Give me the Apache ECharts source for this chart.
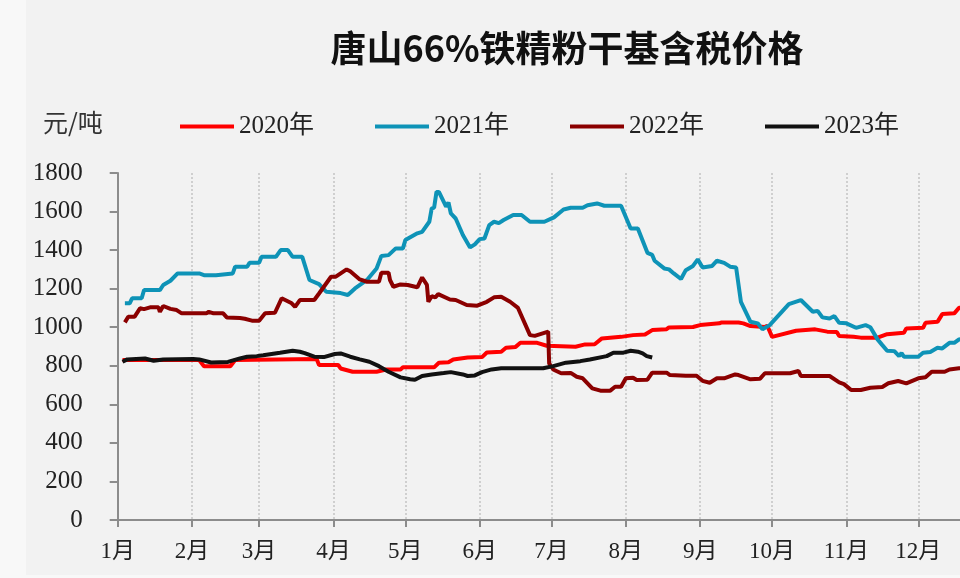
<!DOCTYPE html>
<html>
<head>
<meta charset="utf-8">
<script src="https://cdn.jsdelivr.net/npm/echarts@6/dist/echarts.min.js"></script>
<style>
  html, body { margin: 0; padding: 0; background: #f8f8f8; }
  #chart { position: absolute; left: 26px; top: 0; width: 934px; height: 575px; }
</style>
</head>
<body>
<div id="chart"></div>
<script>
// x = day of year (0 = Jan 1), y = 元/吨
var monthStarts = [0, 31, 59, 90, 120, 151, 181, 212, 243, 273, 304, 334];
var monthLabels = ['1月', '2月', '3月', '4月', '5月', '6月', '7月', '8月', '9月', '10月', '11月', '12月'];
var yearNames = ['2020年', '2021年', '2022年', '2023年'];

var s2020 = [[2,830],[34,830],[36,798],[47,798],[49,830],[83,835],[84,804],[92,804],[93,786],[98,769],[108,769],
  [112,781],[118,781],[119,792],[132,792],[134,816],[138,818],[140,833],[146,843],[152,845],[154,869],[160,873],
  [162,894],[166,898],[168,919],[175,919],[179,904],[191,899],[195,911],[199,912],[202,942],[210,950],[215,959],
  [220,962],[223,985],[229,990],[230,999],[240,1001],[243,1011],[251,1020],[252,1025],[259,1024],[261,1020],
  [264,1006],[270,1001],[271,1008],[273,950],[283,982],[291,989],[296,977],[300,975],[301,954],[307,950],[310,946],
  [317,946],[321,964],[328,971],[329,994],[336,997],[337,1023],[342,1028],[344,1068],[349,1072],[351,1101],[358,1105]];

var s2021 = [[3,1124],[5,1124],[6,1150],[10,1150],[11,1193],[17.6,1193],[19,1219],[22,1241],[25,1279],[34,1279],
  [36,1270],[41,1270],[48,1279],[49,1314],[54,1314],[55,1334],[59,1334],[60,1365],[66,1365],[68,1400],[71,1400],
  [73,1365],[77,1365],[80,1245],[84,1224],[87,1184],[93,1177],[96,1167],[99,1201],[104,1245],[108,1305],[110,1370],
  [113,1374],[116,1409],[119,1409],[120,1452],[125,1487],[127,1495],[130,1547],[131,1616],[132,1620],[133,1702],
  [134,1702],[137,1625],[138,1647],[139,1590],[141,1564],[144,1478],[147,1414],[149,1430],[151,1457],[153,1460],
  [155,1530],[157,1547],[159,1540],[161,1556],[165,1582],[168.5,1582],[172,1547],[178,1547],[182,1570],[186,1611],
  [189,1620],[194,1620],[196,1633],[200,1642],[203,1630],[210,1630],[214,1512],[217,1512],[221,1386],[223,1375],
  [224,1345],[228,1305],[230,1300],[232,1279],[235,1250],[237,1296],[240,1318],[242,1352],[244,1310],[248,1318],
  [250,1345],[253,1334],[255.5,1314],[258,1310],[260,1132],[264,1028],[267,1020],[269,989],[272,1011],[280,1120],
  [285,1141],[290,1080],[292,1085],[294,1051],[297,1045],[299,1058],[301,1023],[304,1020],[308,997],[312,1011],
  [314,1000],[317,937],[319,907],[321,878],[324,876],[326,850],[327,866],[328,847],[334,847],[336,868],[339,872],
  [342,893],[344,890],[347,919],[349,919],[351,937],[358,950]];

var s2022 = [[3,1025],[4.4,1054],[7,1054],[9.3,1098],[11,1094],[13.5,1103],[17,1103],[17.6,1080],[19,1110],[22,1095],
  [24.6,1089],[26.7,1072],[37,1072],[38,1080],[40,1072],[44,1072],[45.5,1051],[51,1048],[53,1044],[56,1034],[59,1034],
  [61.5,1072],[65.6,1075],[68.4,1150],[72.6,1124],[74,1106],[76,1141],[82,1141],[84,1175],[89,1262],[91,1262],
  [95.5,1300],[97,1290],[101,1248],[104,1236],[109,1236],[110,1283],[113,1283],[113.6,1245],[115,1210],[118,1222],
  [121,1219],[125,1207],[127,1258],[129,1220],[129.6,1132],[131,1161],[132.5,1155],[133.7,1172],[138.6,1144],
  [141,1141],[145.6,1115],[150,1112],[154,1132],[157,1155],[160,1158],[163.7,1132],[167,1100],[172,959],[174,955],
  [179.6,977],[180,812],[181.7,781],[185,761],[189,763],[191.5,743],[194,735],[198,683],[201.4,671],[205.5,671],
  [207.5,691],[210,691],[212,735],[215,738],[216.5,726],[221,728],[223,764],[229,764],[230.4,752],[237,748],
  [241.5,748],[244,722],[247,712],[250,735],[253,735],[257.6,755],[259,752],[264,730],[268,733],[270,761],
  [280.5,761],[284,773],[285,747],[297,747],[301,714],[303,705],[306,674],[310,674],[314,686],[319,690],
  [321.5,709],[325.6,721],[329,709],[334,735],[337,740],[339.6,769],[345,769],[347,781],[351,787],[358,790]];

var s2023 = [[2,821],[4,833],[11.4,838],[15,826],[19,833],[31.5,835],[34,833],[39,817],[46,820],[51,838],[54,847],
  [58,850],[60.7,855],[67.7,868],[73,878],[76,873],[78,866],[82,847],[86,845],[90.6,861],[93,864],[97,847],[101,833],
  [105,821],[109,798],[113,769],[118,740],[122,730],[124,727],[127,747],[131,755],[136,762],[139,767],[144,755],
  [146,747],[149,750],[152,767],[156,781],[160,787],[170,787],[177.5,787],[181.7,798],[187,816],[193,824],[197,833],
  [204,850],[206.8,868],[211,868],[214,878],[217,873],[219,864],[220.7,850],[223,843]];

var colors = ['#ff0000', '#0e93b7', '#8b0000', '#111111'];
var serif = "'Liberation Serif', 'Noto Sans CJK SC', serif";
var axisGray = '#8c8c8c';

var chart = echarts.init(document.getElementById('chart'));

function line(name, data, color) {
  return {
    name: name,
    type: 'line',
    data: data,
    showSymbol: false,
    symbol: 'none',
    lineStyle: { color: color, width: 4 },
    itemStyle: { color: color },
    emphasis: { disabled: true },
    animation: false
  };
}

var option = {
  backgroundColor: '#f2f2f2',
  animation: false,
  graphic: [
    {
      type: 'text', x: 541, y: 48,
      style: { text: '唐山66%铁精粉干基含税价格', fill: '#111', align: 'center', verticalAlign: 'middle',
               font: "bold 36px 'Noto Sans CJK SC'" }
    },
    {
      type: 'text', x: 17, y: 122,
      style: { text: '元/吨', fill: '#333', align: 'left', verticalAlign: 'middle',
               font: "25px 'Noto Sans CJK SC'" }
    }
  ],
  legend: {
    data: yearNames,
    left: 149,
    top: 109,
    icon: 'rect',
    itemWidth: 54,
    itemHeight: 4,
    itemGap: 61,
    textStyle: { fontSize: 25, fontFamily: serif, color: '#222' }
  },
  grid: {
    left: 91.7,
    right: -32.6,
    top: 173,
    bottom: 55,
    outerBoundsMode: 'none',
    containLabel: false
  },
  xAxis: {
    type: 'value',
    min: 0,
    max: 365,
    axisLine: { show: true, lineStyle: { color: axisGray, width: 2 } },
    axisTick: { show: true, customValues: monthStarts, length: 7, lineStyle: { color: axisGray, width: 2 } },
    axisLabel: {
      customValues: monthStarts,
      formatter: function (v) { return monthLabels[monthStarts.indexOf(v)]; },
      margin: 20, fontSize: 23, fontFamily: serif, color: '#222'
    },
    splitLine: { show: true, lineStyle: { type: 'dotted', color: '#cfcfcf', width: 2 } }
  },
  yAxis: {
    type: 'value',
    min: 0,
    max: 1800,
    interval: 200,
    axisLine: { show: true, lineStyle: { color: axisGray, width: 2 } },
    axisTick: { show: true, length: 8, lineStyle: { color: axisGray, width: 2 } },
    axisLabel: {
      margin: 35, fontSize: 25, fontFamily: serif, color: '#222',
      formatter: function (v) { return String(v); }
    },
    splitLine: { show: false }
  },
  series: [
    line(yearNames[0], s2020, colors[0]),
    line(yearNames[1], s2021, colors[1]),
    line(yearNames[2], s2022, colors[2]),
    line(yearNames[3], s2023, colors[3])
  ]
};
chart.setOption(option);
</script>
</body>
</html>
